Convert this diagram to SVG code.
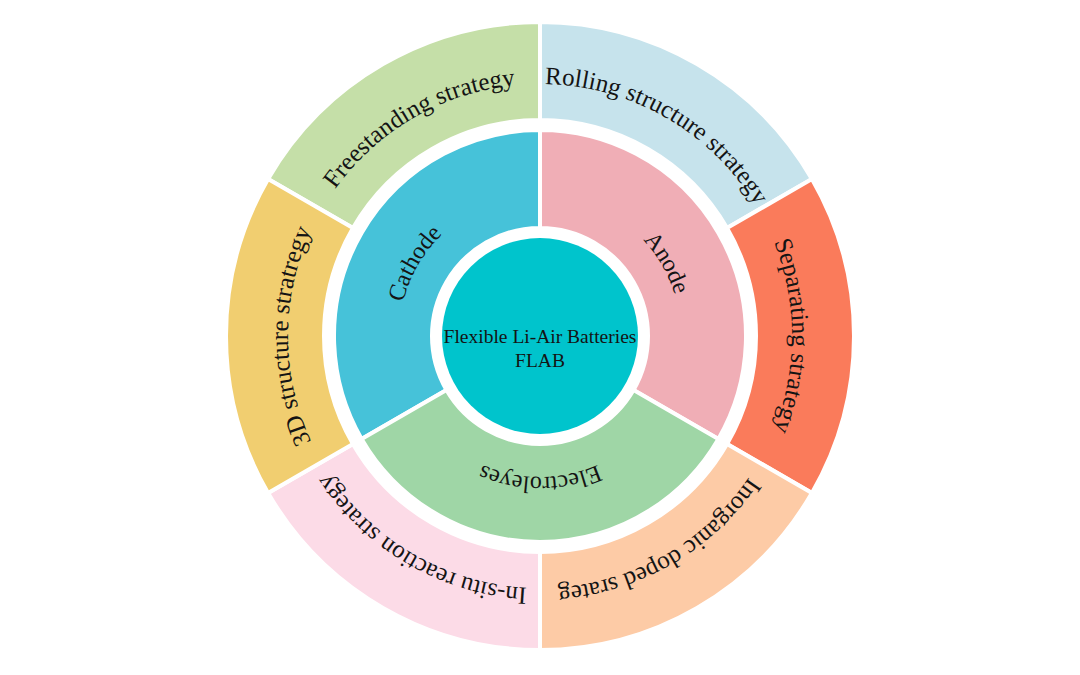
<svg xmlns="http://www.w3.org/2000/svg" width="1080" height="675" viewBox="0 0 1080 675">
<style>
.seg{stroke:#ffffff;stroke-width:4;stroke-linejoin:miter}
.lbl{font-family:"Liberation Serif","Times New Roman",serif;font-size:24px;fill:#141414}
.out{font-size:25px}
.ctr{font-family:"Liberation Serif","Times New Roman",serif;font-size:19.5px;fill:#141414;text-anchor:middle}
</style>
<defs>
<path id="tp-free" d="M303.197 249.811 A252 252 0 0 1 583.759 87.828"/>
<path id="tp-roll" d="M496.241 87.828 A252 252 0 0 1 776.803 249.811"/>
<path id="tp-sep" d="M733.043 174.017 A252 252 0 0 1 733.043 497.983"/>
<path id="tp-inorg" d="M776.803 422.189 A252 252 0 0 1 496.241 584.172"/>
<path id="tp-insitu" d="M583.759 584.172 A252 252 0 0 1 303.197 422.189"/>
<path id="tp-3d" d="M346.957 497.983 A252 252 0 0 1 346.957 174.017"/>
<path id="tp-cath" d="M417.890 406.5 A141 141 0 0 1 540 195"/>
<path id="tp-anode" d="M540 195 A141 141 0 0 1 662.110 406.5"/>
<path id="tp-elec" d="M662.110 406.5 A141 141 0 0 1 417.890 406.5"/>
</defs>
<rect width="1080" height="675" fill="#ffffff"/>

<g id="freestanding">
<path class="seg" fill="#c5dfa8" d="M268.068 179 A314 314 0 0 1 540 22 L540 120 A216 216 0 0 0 352.939 228 Z"/>
<text class="lbl out"><textPath href="#tp-free" startOffset="50%" text-anchor="middle">Freestanding strategy</textPath></text>
</g>
<g id="rolling">
<path class="seg" fill="#c6e3ec" d="M540 22 A314 314 0 0 1 811.932 179 L727.061 228 A216 216 0 0 0 540 120 Z"/>
<text class="lbl out"><textPath href="#tp-roll" startOffset="50%" text-anchor="middle">Rolling structure strategy</textPath></text>
</g>
<g id="separating">
<path class="seg" fill="#fa7b5b" d="M811.932 179 A314 314 0 0 1 811.932 493 L727.061 444 A216 216 0 0 0 727.061 228 Z"/>
<text class="lbl out"><textPath href="#tp-sep" startOffset="50%" text-anchor="middle">Separating strategy</textPath></text>
</g>
<g id="inorganic">
<path class="seg" fill="#fdcba6" d="M811.932 493 A314 314 0 0 1 540 650 L540 552 A216 216 0 0 0 727.061 444 Z"/>
<text class="lbl out"><textPath href="#tp-inorg" startOffset="50%" text-anchor="middle">Inorganic doped srateg</textPath></text>
</g>
<g id="insitu">
<path class="seg" fill="#fcdbe7" d="M540 650 A314 314 0 0 1 268.068 493 L352.939 444 A216 216 0 0 0 540 552 Z"/>
<text class="lbl out"><textPath href="#tp-insitu" startOffset="50%" text-anchor="middle">In-situ reaction strategy</textPath></text>
</g>
<g id="structure3d">
<path class="seg" fill="#f1ce70" d="M268.068 493 A314 314 0 0 1 268.068 179 L352.939 228 A216 216 0 0 0 352.939 444 Z"/>
<text class="lbl out"><textPath href="#tp-3d" startOffset="50%" text-anchor="middle">3D structure stratregy</textPath></text>
</g>

<g id="cathode">
<path class="seg" fill="#46c2d9" d="M361.599 439 A206 206 0 0 1 540 130 L540 228 A108 108 0 0 0 446.469 390 Z"/>
<text class="lbl"><textPath href="#tp-cath" startOffset="50%" text-anchor="middle">Cathode</textPath></text>
</g>
<g id="anode">
<path class="seg" fill="#f0aeb6" d="M540 130 A206 206 0 0 1 718.401 439 L633.531 390 A108 108 0 0 0 540 228 Z"/>
<text class="lbl"><textPath href="#tp-anode" startOffset="50%" text-anchor="middle">Anode</textPath></text>
</g>
<g id="electrolytes">
<path class="seg" fill="#9fd6a6" d="M718.401 439 A206 206 0 0 1 361.599 439 L446.469 390 A108 108 0 0 0 633.531 390 Z"/>
<text class="lbl"><textPath href="#tp-elec" startOffset="50%" text-anchor="middle">Electroleyes</textPath></text>
</g>

<g id="center">
<circle cx="540" cy="336" r="98" fill="#00c4cc"/>
<text class="ctr" x="540" y="343">Flexible Li-Air Batteries</text>
<text class="ctr" x="540" y="367">FLAB</text>
</g>
</svg>
